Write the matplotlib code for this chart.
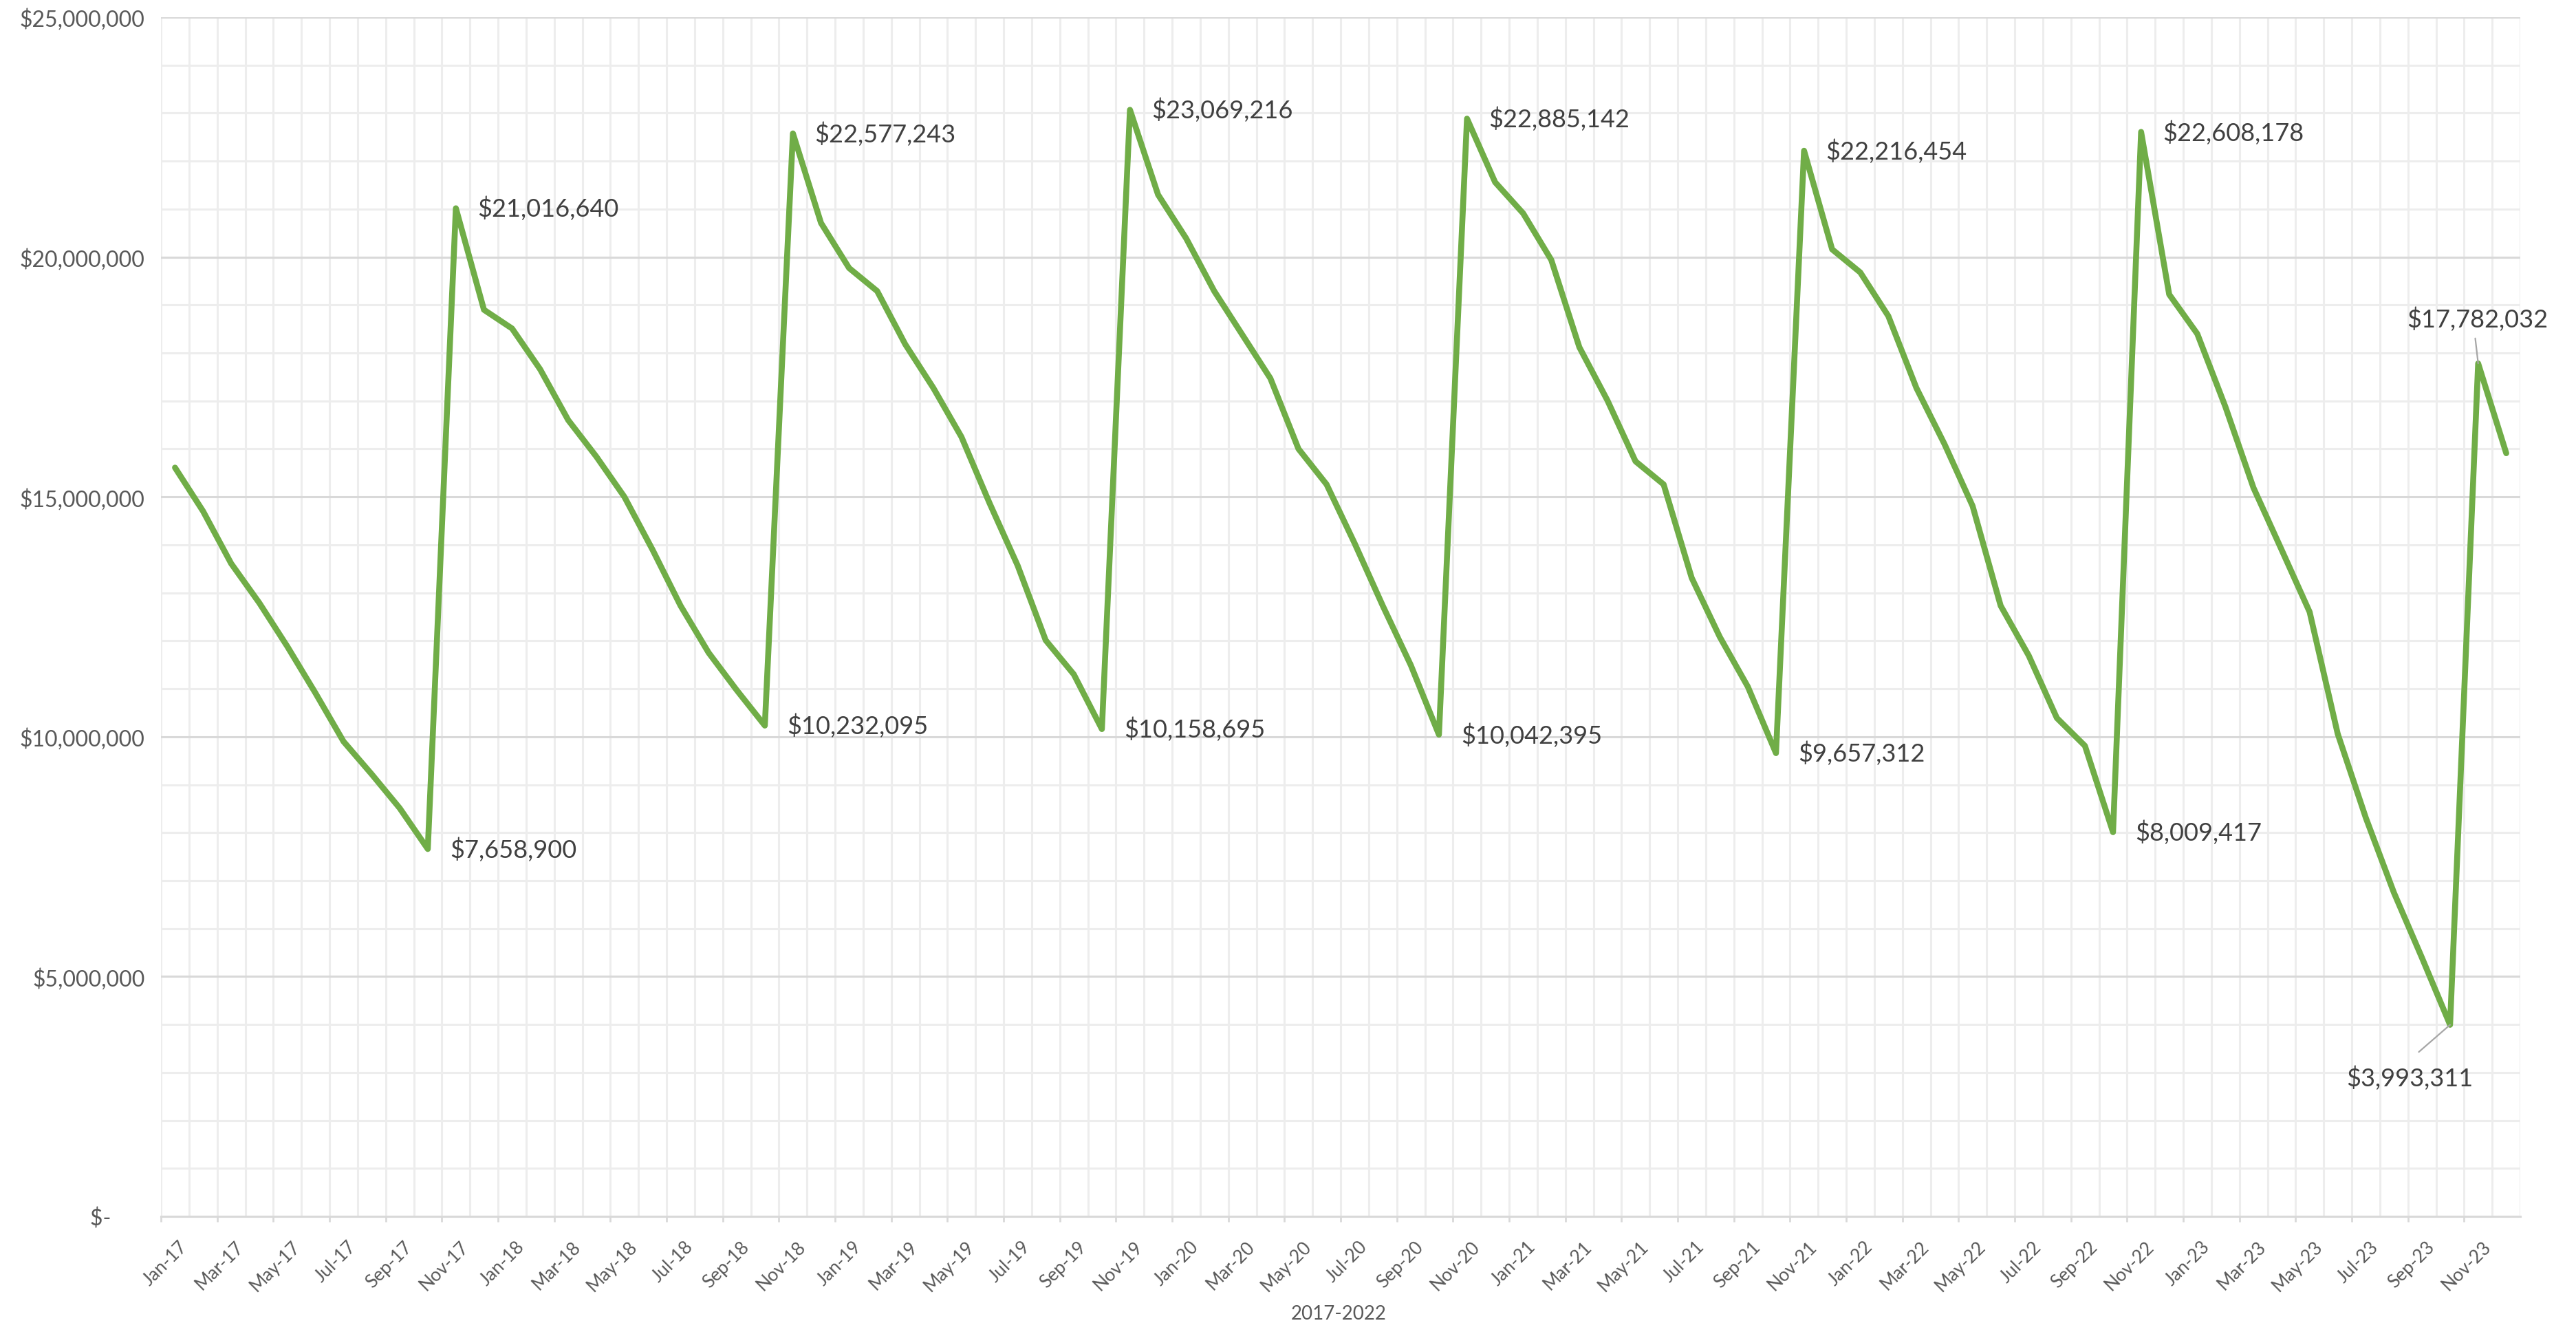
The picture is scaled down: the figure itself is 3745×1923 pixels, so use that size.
import matplotlib.pyplot as plt
import matplotlib.transforms as mtransforms
from matplotlib.ticker import MultipleLocator, FuncFormatter
import numpy as np
import pandas as pd

plt.rcParams['font.family'] = ['Lato', 'DejaVu Sans']

# monthly totals, Jan-17 .. Dec-23
months = pd.date_range('2017-01-01', periods=84, freq='MS').strftime('%b-%y').tolist()
values = [
    15610000, 14700000, 13610000, 12790000, 11880000, 10910000,
    9900000, 9220000, 8510000, 7658900, 21016640, 18900000,
    18510000, 17660000, 16600000, 15840000, 15000000, 13900000,
    12730000, 11750000, 10970000, 10232095, 22577243, 20710000,
    19770000, 19290000, 18180000, 17270000, 16250000, 14870000,
    13570000, 12010000, 11300000, 10158695, 23069216, 21300000,
    20390000, 19290000, 18380000, 17470000, 16000000, 15260000,
    14030000, 12730000, 11490000, 10042395, 22885142, 21560000,
    20910000, 19940000, 18120000, 17010000, 15740000, 15260000,
    13310000, 12080000, 11040000, 9657312, 22216454, 20160000,
    19680000, 18770000, 17270000, 16100000, 14810000, 12730000,
    11690000, 10390000, 9810000, 8009417, 22608178, 19220000,
    18400000, 16880000, 15190000, 13900000, 12600000, 10060000,
    8310000, 6750000, 5390000, 3993311, 17782032, 15910000,
]
labeled = [9, 10, 21, 22, 33, 34, 45, 46, 57, 58, 69, 70, 81, 82]
x_title = '2017-2022'

W, H = 3745, 1924
fig = plt.figure(figsize=(W / 100, H / 100), dpi=100)
ax = fig.add_axes([234 / W, 155 / H, 3430 / W, 1743 / H])

x = np.arange(len(values)) + 0.5
ax.plot(x, values, color='#70AD47', lw=6.2, solid_joinstyle='round',
        solid_capstyle='round', zorder=3)

ax.set_xlim(0, len(values))
ax.set_ylim(0, 25e6)
ax.set_xticks(np.arange(0, len(values), 2))
ax.set_xticklabels(months[::2])
ax.xaxis.set_minor_locator(MultipleLocator(1))
ax.yaxis.set_major_locator(MultipleLocator(5e6))
ax.yaxis.set_minor_locator(MultipleLocator(1e6))
ax.yaxis.set_major_formatter(FuncFormatter(
    lambda v, _: '$-      ' if v == 0 else f'${v:,.0f}'))

ax.grid(which='minor', axis='both', color='#ededed', lw=2.2, zorder=0)
ax.grid(which='major', axis='x', color='#ededed', lw=2.2, zorder=0)
ax.grid(which='major', axis='y', color='#d9d9d9', lw=2.2, zorder=0)
ax.set_axisbelow(True)

for side in ['top', 'right', 'left']:
    ax.spines[side].set_visible(False)
ax.spines['bottom'].set_color('#d9d9d9')
ax.spines['bottom'].set_linewidth(2.2)

ax.tick_params(axis='x', which='major', length=5.8, width=2, color='#d9d9d9',
               labelsize=19, labelcolor='#595959', pad=16.5)
ax.tick_params(axis='x', which='minor', length=0)
ax.tick_params(axis='y', which='both', length=0, labelsize=23,
               labelcolor='#595959', pad=17)

shift = mtransforms.ScaledTranslation(0.26, 0, fig.dpi_scale_trans)
for lbl in ax.get_xticklabels():
    lbl.set_rotation(45)
    lbl.set_ha('right')
    lbl.set_va('top')
    lbl.set_rotation_mode('anchor')
    lbl.set_transform(lbl.get_transform() + shift)

fig.text(1946 / W, 1 - 1910 / H, x_title, ha='center', va='center',
         fontsize=20, color='#595959')

# data labels on the yearly lows and highs
for i in labeled:
    txt = f'${values[i]:,.0f}'
    if i == 81:
        ax.annotate(txt, (x[i], values[i]), xytext=(-42, -55),
                    textcoords='offset points', ha='center', va='center',
                    fontsize=26, color='#404040',
                    arrowprops=dict(arrowstyle='-', color='#a6a6a6', lw=1.6,
                                    relpos=(0.45, 1.0), shrinkA=18, shrinkB=0))
    elif i == 82:
        ax.annotate(txt, (x[i], values[i]), xytext=(-1, 47),
                    textcoords='offset points', ha='center', va='center',
                    fontsize=26, color='#404040',
                    arrowprops=dict(arrowstyle='-', color='#a6a6a6', lw=1.6,
                                    relpos=(0.48, 0.0), shrinkA=6, shrinkB=0))
    else:
        ax.annotate(txt, (x[i], values[i]), xytext=(23, 0),
                    textcoords='offset points', ha='left', va='center',
                    fontsize=26, color='#404040')

fig.savefig('out.png', dpi=100, facecolor='white')
